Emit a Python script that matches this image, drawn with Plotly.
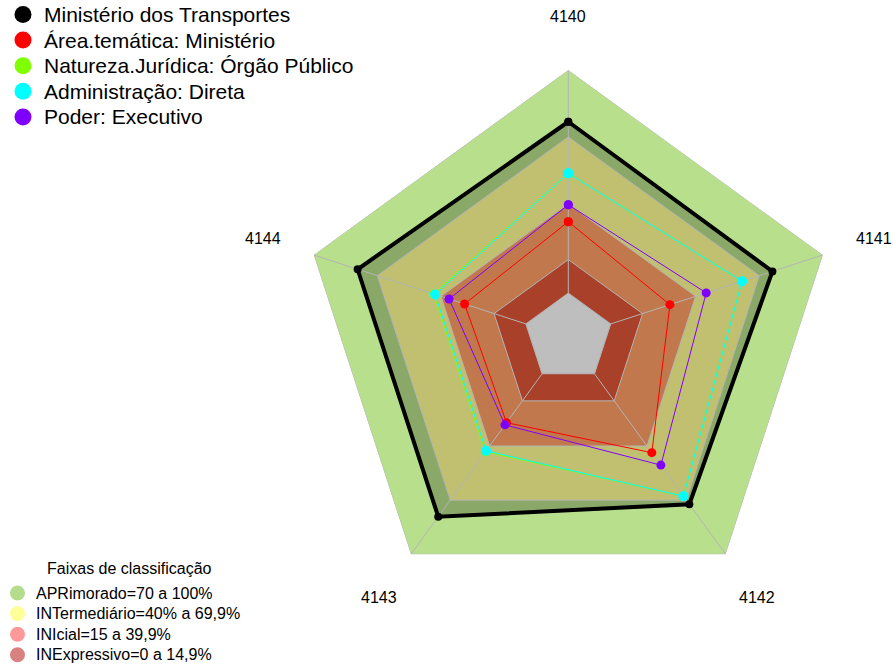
import math
import plotly.graph_objects as go

# ---------------- data ----------------
categories = ["4140", "4141", "4142", "4143", "4144"]

series_names = [
    "Ministério dos Transportes",
    "Área.temática: Ministério",
    "Natureza.Jurídica: Órgão Público",
    "Administração: Direta",
    "Poder: Executivo",
]
ministerio = [76.8, 76.2, 72.3, 79.2, 79.3]
area_tematica = [32.0, 27.9, 43.7, 27.1, 28.9]
natureza = [53.7, 61.9, 67.8, 43.2, 43.4]
administracao = [53.7, 61.9, 67.8, 42.7, 42.8]
poder = [39.6, 45.0, 50.6, 28.3, 36.2]

band_title = "Faixas de classificação"
band_names = [
    "APRimorado=70 a 100%",
    "INTermediário=40% a 69,9%",
    "INIcial=15 a 39,9%",
    "INExpressivo=0 a 14,9%",
]
band_upper = [100, 70, 40, 15]
grid_levels = [0, 15, 40, 70, 100]
radial_range = [-20, 100]

# ---------------- styles ----------------
FONT = "Liberation Sans, Arial, sans-serif"
W, H = 893, 666
series_colors = ["#000000", "#FF0000", "#80FF00", "#00FFFF", "#8000FF"]
series_widths = [4, 1, 1, 1, 1]
series_msize = [8, 9, 9, 10, 9]
band_fill = ["#B8E08C", "#C0C070", "#C0784C", "#A8402A"]
band_legend = ["#B3DC8C", "#FFFF99", "#FF9999", "#D98080"]
center_fill = "#BEBEBE"
black_fill = "#8AA868"
grid_color = "#B4B4B4"

dom_x = [0.3366, 0.9362]
dom_y = [0.0910, 0.8949]

# legend layout (pixels from top-left)
LEG1 = dict(mx=23, tx=42, y0=14.5, dy=25.6, size=17, font=21)
LEG2 = dict(mx=17.5, tx=35, y0=593, dy=20.6, size=15, font=16, title_x=129.5, title_y=568)

fig = go.Figure()


def closed(vals):
    return list(vals) + [vals[0]]


theta_c = closed(categories)

# band fills (outer to inner), black series fill inserted after outer band
fig.add_trace(go.Scatterpolar(r=closed([band_upper[0]] * len(categories)), theta=theta_c,
                              mode="none", fill="toself", fillcolor=band_fill[0],
                              showlegend=False, hoverinfo="skip"))
fig.add_trace(go.Scatterpolar(r=closed(ministerio), theta=theta_c, mode="none",
                              fill="toself", fillcolor=black_fill,
                              showlegend=False, hoverinfo="skip"))
for lim, col in zip(band_upper[1:], band_fill[1:]):
    fig.add_trace(go.Scatterpolar(r=closed([lim] * len(categories)), theta=theta_c,
                                  mode="none", fill="toself", fillcolor=col,
                                  showlegend=False, hoverinfo="skip"))
fig.add_trace(go.Scatterpolar(r=closed([grid_levels[0]] * len(categories)), theta=theta_c,
                              mode="none", fill="toself", fillcolor=center_fill,
                              showlegend=False, hoverinfo="skip"))

# grid pentagons
for lv in grid_levels:
    fig.add_trace(go.Scatterpolar(r=closed([lv] * len(categories)), theta=theta_c,
                                  mode="lines", line=dict(color=grid_color, width=1),
                                  showlegend=False, hoverinfo="skip"))
# spokes
sr, st = [], []
for c in categories:
    sr += [grid_levels[0], grid_levels[-1], None]
    st += [c, c, None]
fig.add_trace(go.Scatterpolar(r=sr, theta=st, mode="lines",
                              line=dict(color=grid_color, width=1),
                              showlegend=False, hoverinfo="skip"))

# series
all_series = [ministerio, area_tematica, natureza, administracao, poder]
for name, vals, col, lw, ms in zip(series_names, all_series, series_colors,
                                   series_widths, series_msize):
    fig.add_trace(go.Scatterpolar(r=closed(vals), theta=theta_c, mode="lines+markers",
                                  line=dict(color=col, width=lw),
                                  marker=dict(color=col, size=ms),
                                  name=name, showlegend=False))

annotations = []

# ---- legend 1 (series) drawn on a pixel-unit overlay axis ----
ly1 = [LEG1["y0"] + i * LEG1["dy"] for i in range(len(series_names))]
fig.add_trace(go.Scatter(x=[LEG1["mx"]] * len(series_names), y=ly1, mode="markers",
                         marker=dict(color=series_colors, size=LEG1["size"], line=dict(width=0)),
                         showlegend=False, hoverinfo="skip", cliponaxis=False))
for name, y in zip(series_names, ly1):
    annotations.append(dict(x=LEG1["tx"], y=y, xref="x", yref="y", text=name,
                            showarrow=False, xanchor="left", yanchor="middle",
                            font=dict(family=FONT, size=LEG1["font"], color="#000000")))

# ---- legend 2 (bands) ----
ly2 = [LEG2["y0"] + i * LEG2["dy"] for i in range(len(band_names))]
fig.add_trace(go.Scatter(x=[LEG2["mx"]] * len(band_names), y=ly2, mode="markers",
                         marker=dict(color=band_legend, size=LEG2["size"], line=dict(width=0)),
                         showlegend=False, hoverinfo="skip", cliponaxis=False))
for name, y in zip(band_names, ly2):
    annotations.append(dict(x=LEG2["tx"], y=y, xref="x", yref="y", text=name,
                            showarrow=False, xanchor="left", yanchor="middle", borderpad=0,
                            font=dict(family=FONT, size=LEG2["font"], color="#000000")))
annotations.append(dict(x=LEG2["title_x"], y=LEG2["title_y"], xref="x", yref="y",
                        text=band_title, showarrow=False, xanchor="center", yanchor="middle",
                        font=dict(family=FONT, size=LEG2["font"], color="#000000")))

# axis labels at 1.2 radius
cx = (dom_x[0] + dom_x[1]) / 2 * W
cy = H - (dom_y[0] + dom_y[1]) / 2 * H
R = min((dom_x[1] - dom_x[0]) * W, (dom_y[1] - dom_y[0]) * H) / 2
n = len(categories)
for i, c in enumerate(categories):
    ang = math.radians(90 - 360 / n * i)
    px = cx + 1.2 * R * math.cos(ang)
    py = cy - 1.2 * R * math.sin(ang)
    annotations.append(dict(x=px / W, y=1 - py / H, xref="paper", yref="paper",
                            text=c, showarrow=False, xanchor="center", yanchor="middle",
                            font=dict(family=FONT, size=16, color="#000000")))

fig.update_layout(
    width=W, height=H,
    margin=dict(l=0, r=0, t=0, b=0),
    paper_bgcolor="white",
    plot_bgcolor="rgba(0,0,0,0)",
    font=dict(family=FONT, color="#000000"),
    xaxis=dict(domain=[0, 1], range=[0, W], visible=False, fixedrange=True),
    yaxis=dict(domain=[0, 1], range=[H, 0], visible=False, fixedrange=True),
    polar=dict(
        domain=dict(x=dom_x, y=dom_y),
        gridshape="linear",
        bgcolor="rgba(0,0,0,0)",
        radialaxis=dict(range=radial_range, showgrid=False, showline=False,
                        showticklabels=False, ticks=""),
        angularaxis=dict(type="category", categoryarray=categories,
                         rotation=90, direction="clockwise",
                         showgrid=False, showline=False, showticklabels=False, ticks=""),
    ),
    annotations=annotations,
    showlegend=False,
)

fig.write_html(
    "out.html",
    config={"displayModeBar": False},
    post_script="document.body.style.margin='0px';document.body.style.padding='0px';"
                "document.body.style.overflow='hidden';",
)
